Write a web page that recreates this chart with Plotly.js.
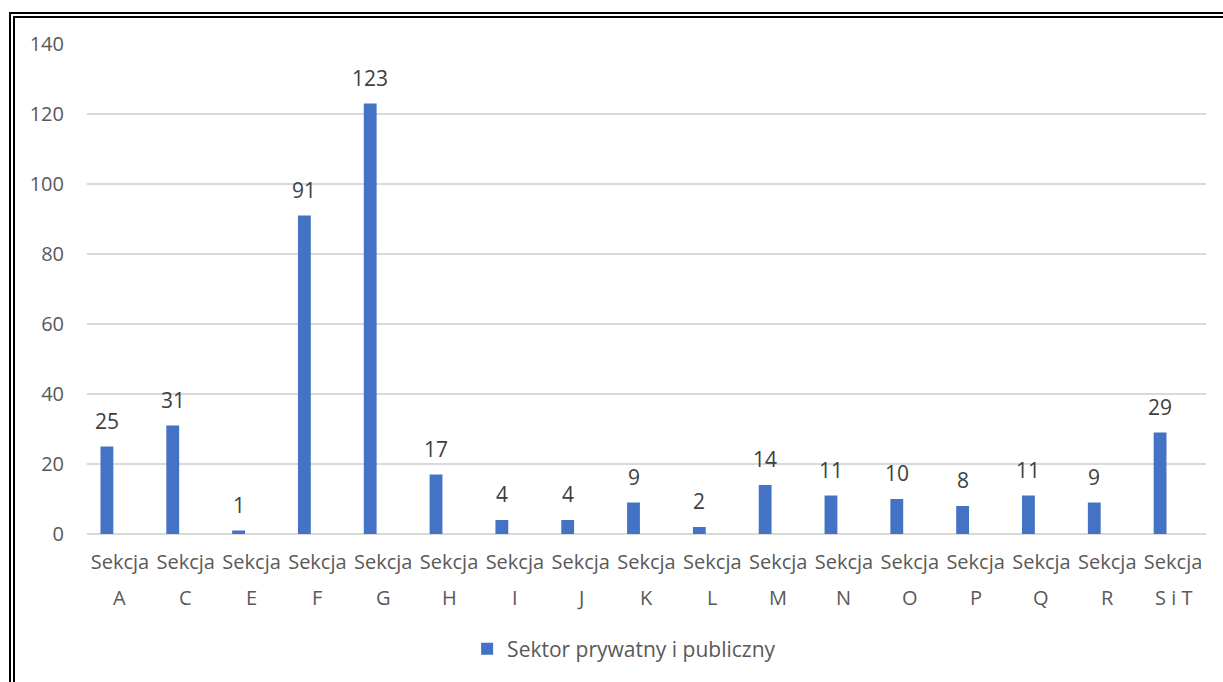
<!DOCTYPE html>
<html>
<head>
<meta charset="utf-8">
<script src="https://cdn.plot.ly/plotly-3.0.1.min.js"></script>
<style>
  html, body { margin: 0; padding: 0; background: #ffffff; overflow: hidden; }
  #wrap { position: relative; width: 1223px; height: 682px; overflow: hidden; }
  #chart { position: absolute; left: 0; top: 0; width: 1223px; height: 682px; }
  #frame { position: absolute; left: 9px; top: 12px; width: 1240px; height: 700px;
           border: 6px double #000000; box-sizing: border-box; pointer-events: none; }
</style>
</head>
<body>
<div id="wrap">
  <div id="chart"></div>
  <div id="frame"></div>
</div>
<script>
// ---- data ----
const sectionWord = "Sekcja";
const categories = ["A", "C", "E", "F", "G", "H", "I", "J", "K", "L", "M", "N", "O", "P", "Q", "R", "S i T"];
const values = [25, 31, 1, 91, 123, 17, 4, 4, 9, 2, 14, 11, 10, 8, 11, 9, 29];
const seriesName = "Sektor prywatny i publiczny";
const yTicks = [0, 20, 40, 60, 80, 100, 120, 140];

const FONT = "Open Sans, Noto Sans, sans-serif";
const axisColor = "#595959";
const labelColor = "#404040";

// bar geometry (category units): bar sits left of the category centre
const BAR_W = 0.195;
const BAR_OFF = -0.295;

const trace = {
  type: "bar",
  x: categories,
  y: values,
  name: seriesName,
  width: BAR_W,
  offset: BAR_OFF,
  marker: { color: "#4472C4", line: { width: 0 } },
  hoverinfo: "x+y"
};

const annotations = [];
categories.forEach((c, i) => {
  annotations.push({
    x: c, y: values[i], xref: "x", yref: "y",
    text: String(values[i]), showarrow: false,
    yanchor: "middle", yshift: 26, xshift: -13,
    font: { family: FONT, size: 21, color: labelColor }
  });
  annotations.push({
    x: c, y: 0, xref: "x", yref: "paper",
    text: c, showarrow: false,
    yanchor: "middle", yshift: -63,
    font: { family: FONT, size: 20, color: axisColor }
  });
});

const layout = {
  width: 1223, height: 682,
  margin: { l: 87, r: 17, t: 44, b: 148, pad: 0 },
  paper_bgcolor: "#ffffff",
  plot_bgcolor: "#ffffff",
  showlegend: true,
  legend: {
    orientation: "h", x: 0.48, xanchor: "center", y: -0.235, yanchor: "middle",
    font: { family: FONT, size: 21, color: axisColor },
    itemclick: false
  },
  xaxis: {
    type: "category",
    tickmode: "array",
    tickvals: categories,
    ticktext: categories.map(() => sectionWord),
    tickfont: { family: FONT, size: 20, color: axisColor },
    ticks: "", showline: false, showgrid: false, zeroline: false,
    ticklabelstandoff: 14
  },
  yaxis: {
    range: [0, 140],
    tickmode: "array",
    tickvals: yTicks,
    ticktext: yTicks.map(String),
    tickfont: { family: FONT, size: 20, color: axisColor },
    showgrid: true, gridcolor: "#d9d9d9", gridwidth: 1.3,
    zeroline: true, zerolinecolor: "#d9d9d9", zerolinewidth: 1.3,
    showline: false, ticks: "",
    ticklabelstandoff: 22
  },
  annotations: annotations
};

Plotly.newPlot("chart", [trace], layout, { displayModeBar: false, staticPlot: true });
</script>
</body>
</html>
